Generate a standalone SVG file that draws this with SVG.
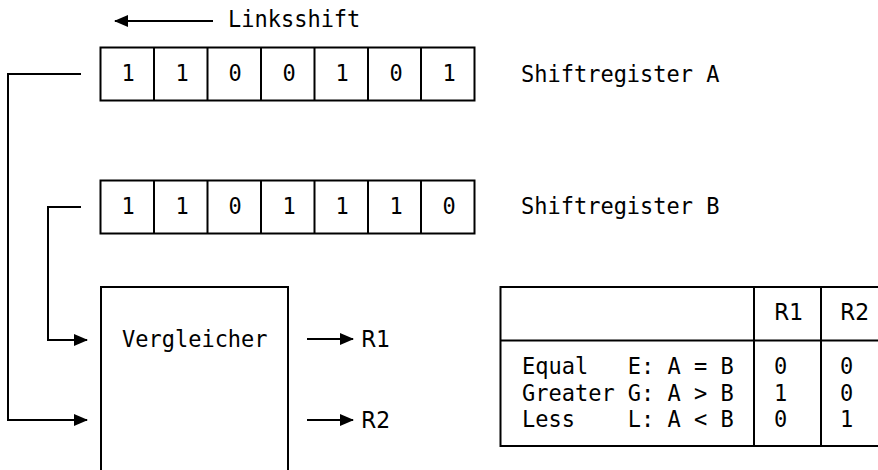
<svg xmlns="http://www.w3.org/2000/svg" width="878" height="470" viewBox="0 0 878 470">
<style>
.m{font-family:"DejaVu Sans Mono","Liberation Mono",monospace;font-size:22px;fill:#000;white-space:pre}
.s{font-family:"DejaVu Sans","Liberation Sans",sans-serif;font-size:22px;fill:#000}
.c{text-anchor:middle}
.b{fill:#fff;stroke:#000;stroke-width:2}
.l{fill:none;stroke:#000;stroke-width:2}
</style>
<defs>
<marker id="ah" markerWidth="14" markerHeight="12" refX="13" refY="6" orient="auto" markerUnits="userSpaceOnUse">
<path d="M0,0 L14,6 L0,12 z" fill="#000"/>
</marker>
</defs>
<rect width="878" height="470" fill="#fff"/>
<g id="linksshift">
<line class="l" x1="213" y1="21" x2="115" y2="21" marker-end="url(#ah)"/>
<text class="m" transform="translate(228,27) scale(1,1.08)">Linksshift</text>
</g>
<g id="registerA">
<rect class="b" x="100.5" y="47.5" width="374" height="53"/>
<path class="l" d="M154,47.5V100.5M207.5,47.5V100.5M261,47.5V100.5M314.5,47.5V100.5M368,47.5V100.5M421,47.5V100.5"/>
<g class="m c">
<text transform="translate(128,81) scale(1,1.08)">1</text>
<text transform="translate(182,81) scale(1,1.08)">1</text>
<text transform="translate(235,81) scale(1,1.08)">0</text>
<text transform="translate(289,81) scale(1,1.08)">0</text>
<text transform="translate(342,81) scale(1,1.08)">1</text>
<text transform="translate(396,81) scale(1,1.08)">0</text>
<text transform="translate(449,81) scale(1,1.08)">1</text>
</g>
<text class="m" transform="translate(521,81.5) scale(1,1.08)">Shiftregister A</text>
</g>
<g id="registerB">
<rect class="b" x="100.5" y="180.5" width="374" height="53"/>
<path class="l" d="M154,180.5V233.5M207.5,180.5V233.5M261,180.5V233.5M314.5,180.5V233.5M368,180.5V233.5M421,180.5V233.5"/>
<g class="m c">
<text transform="translate(128,214) scale(1,1.08)">1</text>
<text transform="translate(182,214) scale(1,1.08)">1</text>
<text transform="translate(235,214) scale(1,1.08)">0</text>
<text transform="translate(289,214) scale(1,1.08)">1</text>
<text transform="translate(342,214) scale(1,1.08)">1</text>
<text transform="translate(396,214) scale(1,1.08)">1</text>
<text transform="translate(449,214) scale(1,1.08)">0</text>
</g>
<text class="m" transform="translate(521,214) scale(1,1.08)">Shiftregister B</text>
</g>
<g id="vergleicher">
<path class="l" d="M101,472V287H288V472"/>
<text class="m" transform="translate(122,347) scale(1,1.08)">Vergleicher</text>
</g>
<g id="table">
<rect class="b" x="500.5" y="287" width="390" height="159"/>
<path class="l" d="M500.5,340.5H890M754,287V446M821,287V446"/>
<text class="s" transform="translate(774,320) scale(1,1.04)">R1</text>
<text class="s" transform="translate(840,320) scale(1,1.04)">R2</text>
<text class="m" xml:space="preserve" transform="translate(522,374) scale(1,1.08)">Equal   E: A = B</text>
<text class="m" xml:space="preserve" transform="translate(522,400.5) scale(1,1.08)">Greater G: A &gt; B</text>
<text class="m" xml:space="preserve" transform="translate(522,427) scale(1,1.08)">Less    L: A &lt; B</text>
<text class="m" transform="translate(774,374) scale(1,1.08)">0</text>
<text class="m" transform="translate(774,400.5) scale(1,1.08)">1</text>
<text class="m" transform="translate(774,427) scale(1,1.08)">0</text>
<text class="m" transform="translate(840,374) scale(1,1.08)">0</text>
<text class="m" transform="translate(840,400.5) scale(1,1.08)">0</text>
<text class="m" transform="translate(840,427) scale(1,1.08)">1</text>
</g>
<g id="connectors">
<path class="l" d="M81,74H8V420H87" marker-end="url(#ah)"/>
<path class="l" d="M81,207H48V340H87" marker-end="url(#ah)"/>
<line class="l" x1="307" y1="339" x2="353" y2="339" marker-end="url(#ah)"/>
<line class="l" x1="307" y1="420" x2="353" y2="420" marker-end="url(#ah)"/>
</g>
<g id="outputs">
<text class="s" transform="translate(361,347) scale(1,1.04)">R1</text>
<text class="s" transform="translate(361,428) scale(1,1.04)">R2</text>
</g>
</svg>
